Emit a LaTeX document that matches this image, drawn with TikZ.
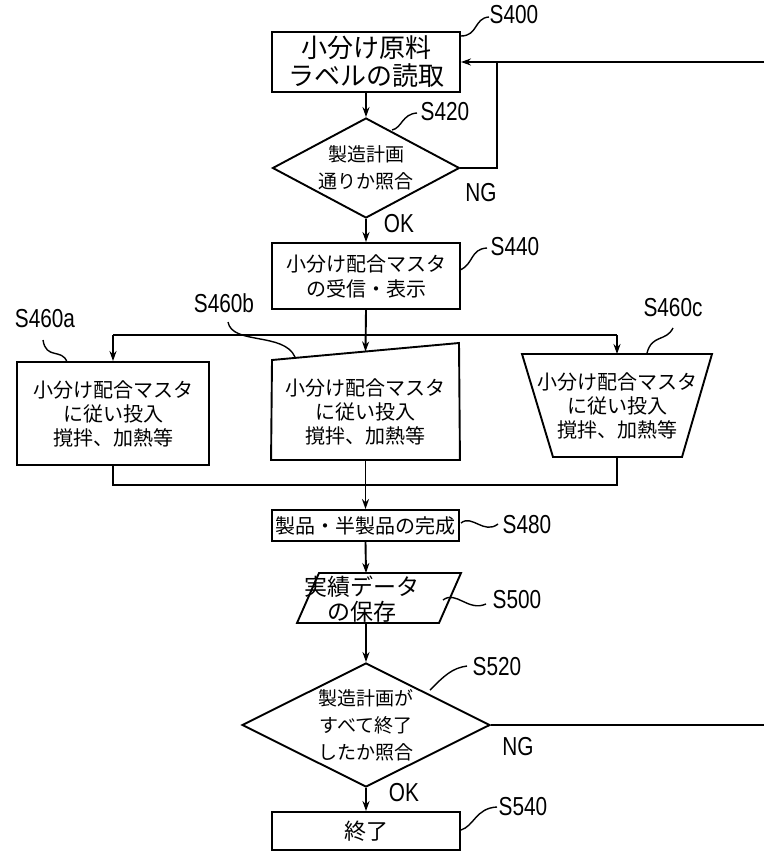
\documentclass[tikz,border=0pt]{standalone}
\usepackage{fontspec}
\newfontfamily\jp{Noto Sans CJK JP}
\newfontfamily\lab[FakeStretch=0.8]{Liberation Sans}
\usetikzlibrary{shapes.geometric,arrows.meta,calc}
\begin{document}
\begin{tikzpicture}[x=1pt,y=-1pt,
  line width=1.9pt,
  >={Stealth[length=10pt,width=7pt]},
  box/.style={draw,rectangle,inner sep=0pt,align=center,font=\jp\fontsize{20}{25}\selectfont},
  plain/.style={rectangle,inner sep=0pt,align=center,font=\jp\fontsize{20}{24}\selectfont},
  dia/.style={draw,diamond,inner sep=0pt,align=center,font=\jp\fontsize{19}{27}\selectfont},
  lbl/.style={font=\lab\fontsize{26}{26}\selectfont,inner sep=0pt},
  lead/.style={line width=1.4pt},
]
\useasboundingbox (0,0) rectangle (764,853);

% nodes
\node[box,minimum width=188pt,minimum height=60pt,font=\jp\fontsize{26}{28}\selectfont] (s400) at (366,62) {小分け原料\\ラベルの読取};
\node[dia,aspect=1.87,minimum width=187pt,minimum height=100pt] (s420) at (366,168) {製造計画\\通りか照合};
\node[box,minimum width=188pt,minimum height=66pt] (s440) at (366,276) {小分け配合マスタ\\の受信・表示};
\node[box,minimum width=192pt,minimum height=103pt,font=\jp\fontsize{20}{24}\selectfont] (s460a) at (113,413.5) {小分け配合マスタ\\に従い投入\\撹拌、加熱等};
\node[plain,minimum width=187pt,minimum height=94pt] (s460b) at (365.5,412) {小分け配合マスタ\\に従い投入\\撹拌、加熱等};
\coordinate (btl) at (272,360);
\coordinate (btr) at (459,343);
\coordinate (bin) at ($(btl)!0.5!(btr)$);
\draw (btl) -- (btr) -- (s460b.south east) -- (s460b.south west) -- cycle;
\node[plain,minimum width=190pt,minimum height=102pt] (s460c) at (617,406) {小分け配合マスタ\\に従い投入\\撹拌、加熱等};
\draw (522,354) -- (712,354) -- (682,457) -- (553,457) -- cycle;
\node[box,minimum width=187pt,minimum height=31pt] (s480) at (365.5,525.5) {製品・半製品の完成};
\node[plain,font=\jp\fontsize{23}{25}\selectfont] (s500) at (362,599) {実績データ\\の保存};
\draw (319,573) -- (461,573) -- (439,623) -- (297,623) -- cycle;
\coordinate (s500top) at (366,573);
\coordinate (s500bot) at (366,623);
\node[dia,aspect=2,minimum width=248pt,minimum height=124pt] (s520) at (366,725) {製造計画が\\すべて終了\\したか照合};
\node[box,minimum width=188pt,minimum height=38pt,font=\jp\fontsize{22}{22}\selectfont] (s540) at (366,831) {終了};

% connectors
\draw[->] (s400.south) -- (s420.north);
\coordinate (rin) at (764,62);
\coordinate (ngc) at (497,62);
\draw[->] (rin) -- (s400.east);
\draw (s420.east) -| (ngc);
\node[lbl] (ng1) at (481,193) {NG};
\draw[->] (s420.south) -- (s440.north);
\node[lbl] (ok1) at (399,224) {OK};
\draw[->] (s440.south) -- (bin);
\coordinate (busL) at (113,335);
\coordinate (busR) at (617,335);
\draw (busL) -- (busR);
\draw[->] (busL) -- (s460a.north);
\draw[->] (busR) -- (s460c.north);
\coordinate (mrg) at (366,485);
\draw (s460a.south) |- (mrg) -| (s460c.south);
\draw[->] (s460b.south) -- (s480.north);
\draw[->] (s480.south) -- (s500top);
\draw[->] (s500bot) -- (s520.north);
\coordinate (rout) at (764,725);
\draw (s520.east) -- (rout);
\node[lbl] (ng2) at (518,747) {NG};
\draw[->] (s520.south) -- (s540.north);
\node[lbl] (ok2) at (404,793) {OK};

% step labels with leaders
\node[lbl] (l400) at (514,15) {S400};
\draw[lead] (461,36) .. controls (478,36) and (474,18) .. (489,17);
\node[lbl] (l420) at (445,112) {S420};
\draw[lead] (392,130) .. controls (402,128) and (402,114) .. (417,113);
\node[lbl] (l440) at (515,247) {S440};
\draw[lead] (460,270) .. controls (474,264) and (470,249) .. (487,248);
\node[lbl] (l460a) at (45,319) {S460a};
\draw[lead] (43,340) .. controls (46,360) and (62,348) .. (67,362);
\node[lbl] (l460b) at (224,303) {S460b};
\draw[lead] (228,322) .. controls (232,345) and (284,332) .. (295,357);
\node[lbl] (l460c) at (673,308) {S460c};
\draw[lead] (673,328) .. controls (666,342) and (652,334) .. (647,353);
\node[lbl] (l480) at (527,525) {S480};
\draw[lead] (461,523) .. controls (472,514) and (484,535) .. (498,524);
\node[lbl] (l500) at (517,600) {S500};
\draw[lead] (443,600) .. controls (456,590) and (468,612) .. (486,604);
\node[lbl] (l520) at (497,667) {S520};
\draw[lead] (430,690) .. controls (444,676) and (452,668) .. (467,666);
\node[lbl] (l540) at (523,807) {S540};
\draw[lead] (461,830) .. controls (474,826) and (476,808) .. (497,807);
\end{tikzpicture}
\end{document}
